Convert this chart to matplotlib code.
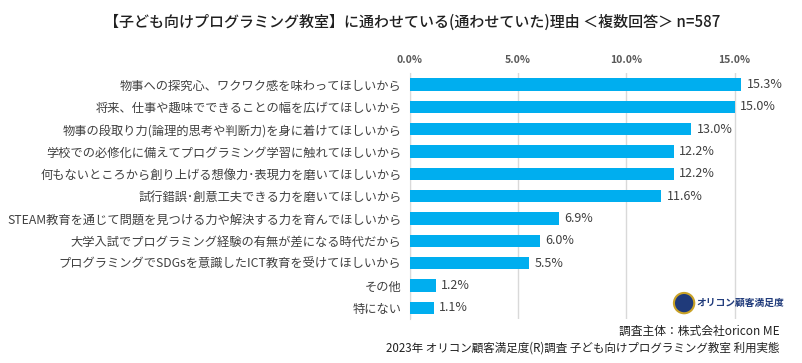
import numpy as np
import matplotlib
matplotlib.use("Agg")
from matplotlib import pyplot as plt
from matplotlib.patches import Ellipse

plt.rcParams['font.family'] = ['Noto Sans CJK JP', 'DejaVu Sans']

reasons = [
    "物事への探究心、ワクワク感を味わってほしいから",
    "将来、仕事や趣味でできることの幅を広げてほしいから",
    "物事の段取り力(論理的思考や判断力)を身に着けてほしいから",
    "学校での必修化に備えてプログラミング学習に触れてほしいから",
    "何もないところから創り上げる想像力･表現力を磨いてほしいから",
    "試行錯誤･創意工夫できる力を磨いてほしいから",
    "STEAM教育を通じて問題を見つける力や解決する力を育んでほしいから",
    "大学入試でプログラミング経験の有無が差になる時代だから",
    "プログラミングでSDGsを意識したICT教育を受けてほしいから",
    "その他",
    "特にない",
]
shares = [15.3, 15.0, 13.0, 12.2, 12.2, 11.6, 6.9, 6.0, 5.5, 1.2, 1.1]
ticks = [0, 5, 10, 15]

fig = plt.figure(figsize=(8.02, 3.63), dpi=100)
ax = fig.add_axes([0.511, 0.121, 0.432, 0.677])

y = np.arange(len(reasons))
ax.barh(y, shares, height=0.56, color='#00AEEF', zorder=3)
for yi, v in zip(y, shares):
    ax.text(v + 0.25, yi, "%.1f%%" % v, va='center', ha='left',
            fontsize=9, color='#404040')

ax.set_xlim(0, 16)
ax.set_ylim(len(reasons) - 0.5, -0.5)
ax.set_xticks(ticks)
ax.set_xticklabels(["%.1f%%" % t for t in ticks])
ax.xaxis.tick_top()
ax.tick_params(axis='x', length=0, pad=6, labelsize=7.5, labelcolor='#595959')
for lbl in ax.get_xticklabels():
    lbl.set_fontweight('bold')
ax.set_yticks(y)
ax.set_yticklabels(reasons, fontsize=8.8, color='#404040')
ax.tick_params(axis='y', length=0, pad=6)
ax.grid(axis='x', color='#d9d9d9', linewidth=1, zorder=0)
for s in ['top', 'right', 'bottom']:
    ax.spines[s].set_visible(False)
ax.spines['left'].set_color('#d9d9d9')

fig.text(0.514, 0.938,
         "【子ども向けプログラミング教室】に通わせている(通わせていた)理由 ＜複数回答＞ n=587",
         ha='center', va='center', fontsize=10.8, fontweight='medium', color='#202020')

# logo
r = 0.028
fig.patches.append(Ellipse((0.853, 0.165), 2 * r * 363 / 802, 2 * r,
                           transform=fig.transFigure, facecolor='#1f3a7a',
                           edgecolor='#c9a227', lw=1.5))
fig.text(0.868, 0.165, "オリコン顧客満足度", ha='left', va='center',
         fontsize=7, fontweight='bold', style='italic', color='#1f3a7a')

fig.text(0.972, 0.088, "調査主体：株式会社oricon ME", ha='right', va='center',
         fontsize=8.5, color='#202020')
fig.text(0.972, 0.042, "2023年 オリコン顧客満足度(R)調査 子ども向けプログラミング教室 利用実態",
         ha='right', va='center', fontsize=8.3, color='#202020')

fig.savefig("out.png", dpi=100)
